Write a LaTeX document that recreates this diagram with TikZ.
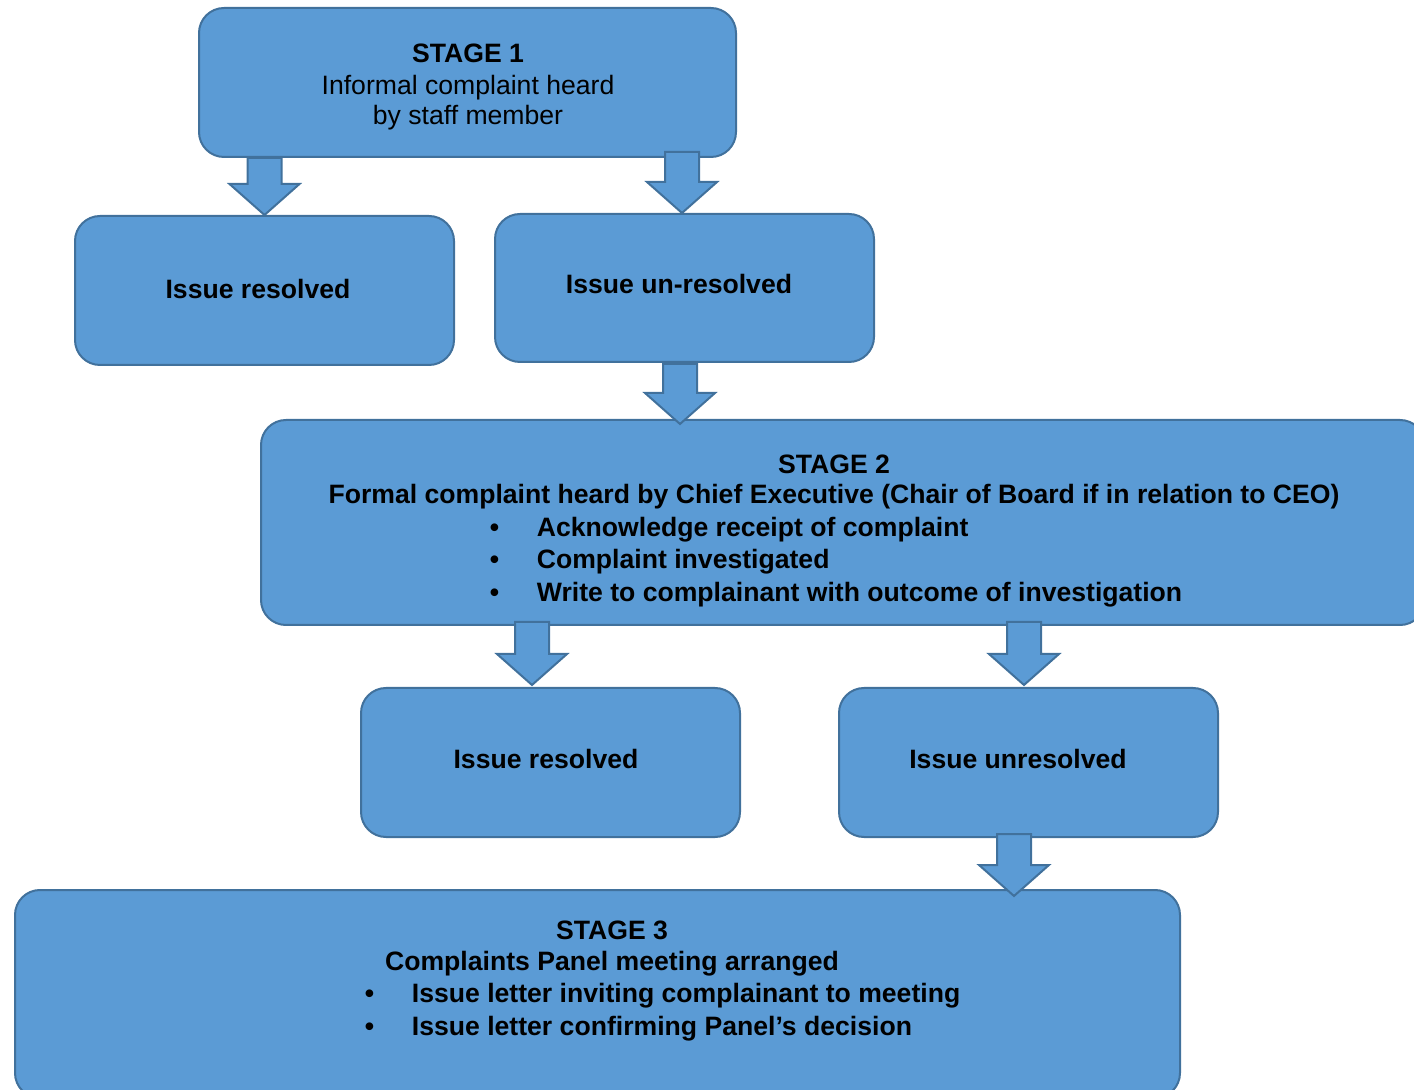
\documentclass[tikz,border=0pt]{standalone}
\usepackage{fontspec}
\setmainfont{Liberation Sans}
\usetikzlibrary{calc}

\definecolor{boxfill}{HTML}{5B9BD5}
\definecolor{boxline}{HTML}{41719C}

% Blockpfeil von oben nach unten
\newcommand{\blockpfeil}[2]{%
  \draw[pfeil] let \p1=(#1), \p2=(#2) in
    (\x1-8.5pt,\y1) -- (\x1-8.5pt,\y2+15.5pt) -- (\x1-17.5pt,\y2+15.5pt) -- (\x2,\y2)
    -- (\x1+17.5pt,\y2+15.5pt) -- (\x1+8.5pt,\y2+15.5pt) -- (\x1+8.5pt,\y1) -- cycle;}
\newcommand{\punkt}{\makebox[23.5pt][l]{\textbullet}}

\begin{document}
\begin{tikzpicture}[x=0.5pt,y=-0.5pt,
    kasten/.style={draw=boxline, fill=boxfill, line width=1pt, rounded corners=12.5pt,
      minimum width=189.5pt, minimum height=74.5pt, inner sep=0pt},
    pfeil/.style={draw=boxline, fill=boxfill, line width=1pt, line join=miter},
    txt/.style={inner sep=0pt, anchor=base, font=\fontsize{13.3}{15.8}\selectfont},
    btxt/.style={txt, font=\bfseries\fontsize{13.3}{15.8}\selectfont},
    liste/.style={btxt, anchor=base west}]
    \clip (0,0) rectangle (1414,1090);

    % Stufe 1
    \node[kasten, minimum width=268.5pt] (s1) at (467.5,82.5) {};
    \node[btxt] (s1t) at (468,62.5) {STAGE 1};
    \node[txt] (s1a) at (468,94.5) {Informal complaint heard};
    \node[txt] (s1b) at (468,124.5) {by staff member};

    % Ergebnis Stufe 1
    \node[kasten] (res1) at (264.5,290.5) {};
    \node[btxt] (res1t) at (258,299) {Issue resolved};
    \node[kasten, minimum height=74pt] (unres1) at (684.5,288) {};
    \node[btxt] (unres1t) at (679,294) {Issue un-resolved};

    % Stufe 2
    \node[kasten, minimum width=582pt, minimum height=102.5pt] (s2) at (843,522.5) {};
    \node[btxt] (s2t) at (834,473.5) {STAGE 2};
    \node[btxt] (s2a) at (834,503.5) {Formal complaint heard by Chief Executive (Chair of Board if in relation to CEO)};
    \node[liste] (s2b) at (489.5,536.5) {\punkt Acknowledge receipt of complaint};
    \node[liste] (s2c) at (489.5,568.5) {\punkt Complaint investigated};
    \node[liste] (s2d) at (489.5,601.5) {\punkt Write to complainant with outcome of investigation};

    % Ergebnis Stufe 2
    \node[kasten] (res2) at (550.5,762.5) {};
    \node[btxt] (res2t) at (546,769) {Issue resolved};
    \node[kasten] (unres2) at (1028.5,762.5) {};
    \node[btxt] (unres2t) at (1018,769) {Issue unresolved};

    % Stufe 3
    \node[kasten, minimum width=582.5pt, minimum height=104pt] (s3) at (597.5,994) {};
    \node[btxt] (s3t) at (612,939.5) {STAGE 3};
    \node[btxt] (s3a) at (612,970.5) {Complaints Panel meeting arranged};
    \node[liste] (s3b) at (364.5,1002.5) {\punkt Issue letter inviting complainant to meeting};
    \node[liste] (s3c) at (364.5,1035.5) {\punkt Issue letter confirming Panel’s decision};

    % Pfeile
    \coordinate (a1s) at (res1.north |- s1.south);
    \coordinate (a1e) at (res1.north);
    \coordinate (a2s) at (682,152);
    \coordinate (a2e) at (682,213);
    \coordinate (a3s) at (680,364);
    \coordinate (a3e) at (680,424);
    \coordinate (a4s) at (532,622);
    \coordinate (a4e) at (532,685);
    \coordinate (a5s) at (1024,622);
    \coordinate (a5e) at (1024,685);
    \coordinate (a6s) at (1014,834);
    \coordinate (a6e) at (1014,896);
    \blockpfeil{a1s}{a1e}
    \blockpfeil{a2s}{a2e}
    \blockpfeil{a3s}{a3e}
    \blockpfeil{a4s}{a4e}
    \blockpfeil{a5s}{a5e}
    \blockpfeil{a6s}{a6e}
\end{tikzpicture}
\end{document}
